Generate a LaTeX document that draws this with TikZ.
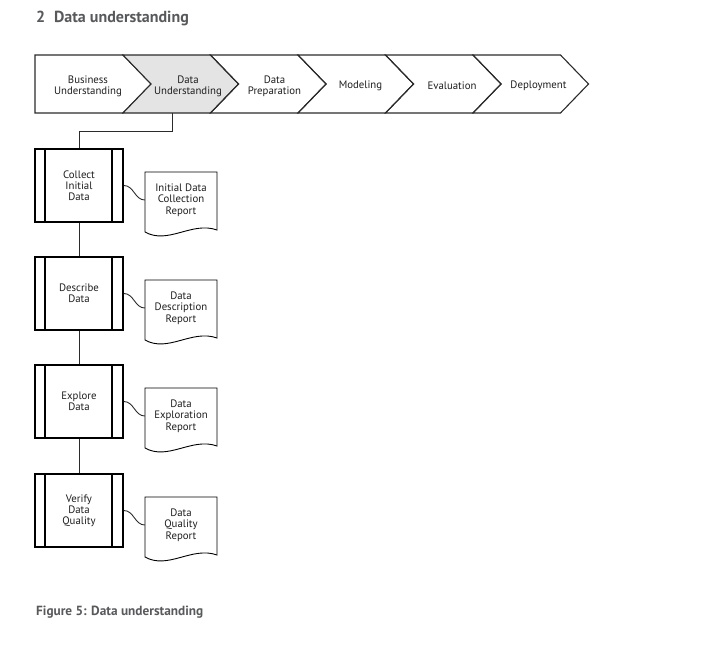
\documentclass[tikz,border=0pt]{standalone}
\usepackage{fontspec}
\setmainfont{PT Sans}
\definecolor{linec}{HTML}{2B2B2B}
\definecolor{titlegray}{HTML}{58595B}
\definecolor{chevfill}{HTML}{E4E4E4}
\definecolor{txt}{HTML}{1E1E1E}
\begin{document}
\begin{tikzpicture}[x=1pt,y=-1pt,
  chev/.style={draw=linec, line width=1.1pt, line join=miter},
  lbl/.style={font=\fontsize{10.8}{11}\selectfont, align=center, text=txt, inner sep=0pt},
  proc/.style={draw=black, line width=1.8pt, minimum width=88pt, minimum height=73pt, inner sep=0pt, align=center, text=txt, font=\fontsize{10.8}{11.2}\selectfont},
  docnode/.style={minimum width=72pt, minimum height=10pt, inner sep=0pt, align=center, text=txt, font=\fontsize{10.8}{11.6}\selectfont},
  docline/.style={draw=black, line width=0.9pt, line join=miter},
  conn/.style={draw=linec, line width=1pt},
  ttl/.style={anchor=base west, text=titlegray, inner sep=0pt}
]
\useasboundingbox (0,0) rectangle (721,653);

% title and caption
\node[ttl, font=\bfseries\fontsize{16}{19}\selectfont] (title) at (36,22) {2\hspace{0.55em}Data understanding};
\node[ttl, font=\bfseries\fontsize{13.3}{16}\selectfont] (caption) at (36,615) {Figure 5: Data understanding};

% chevrons
\draw[chev] (35,55) -- (123,55) -- (151,84) -- (123,113) -- (35,113) -- cycle;
\draw[chev, fill=chevfill] (123,55) -- (210.5,55) -- (238.5,84) -- (210.5,113) -- (123,113) -- (151,84) -- cycle;
\draw[chev] (210.5,55) -- (298,55) -- (326,84) -- (298,113) -- (210.5,113) -- (238.5,84) -- cycle;
\draw[chev] (298,55) -- (385.5,55) -- (413.5,84) -- (385.5,113) -- (298,113) -- (326,84) -- cycle;
\draw[chev] (385.5,55) -- (473,55) -- (501,84) -- (473,113) -- (385.5,113) -- (413.5,84) -- cycle;
\draw[chev] (473,55) -- (560.5,55) -- (588.5,84) -- (560.5,113) -- (473,113) -- (501,84) -- cycle;

\node[lbl] (c1) at (88,86.5) {Business\\Understanding};
\node[lbl] (c2) at (188,86.5) {Data\\Understanding};
\node[lbl] (c3) at (274.5,86.5) {Data\\Preparation};
\node[lbl] (c4) at (360.5,85.5) {Modeling};
\node[lbl] (c5) at (452,85.5) {Evaluation};
\node[lbl] (c6) at (538.5,85.5) {Deployment};
\coordinate (c2b) at (172,113);

% process boxes
\node[proc] (p1) at (79,185.5) {Collect\\Initial\\Data};
\node[proc] (p2) at (79,293.5) {Describe\\Data};
\node[proc] (p3) at (79,401.5) {Explore\\Data};
\node[proc] (p4) at (79,510.5) {Verify\\Data\\Quality};
\foreach \i in {1,2,3,4} {
  \draw[line width=1.8pt] ([xshift=11pt]p\i.north west) -- ([xshift=11pt]p\i.south west);
  \draw[line width=1.8pt] ([xshift=-12pt]p\i.north east) -- ([xshift=-12pt]p\i.south east);
}

% documents
\foreach \t in {172,280,388,497}
  \draw[docline] (145,\t) -- (217,\t) -- (217,\t+58) .. controls (192,\t+49) and (168,\t+73) .. (145,\t+60) -- cycle;
\node[docnode] (d1) at (181,200) {Initial Data\\Collection\\Report};
\node[docnode] (d2) at (181,308) {Data\\Description\\Report};
\node[docnode] (d3) at (181,416) {Data\\Exploration\\Report};
\node[docnode] (d4) at (181,525) {Data\\Quality\\Report};

% connectors
\draw[conn] (c2b) -- (172,131) -| (p1.north);
\draw[conn] (p1.south) -- (p2.north);
\draw[conn] (p2.south) -- (p3.north);
\draw[conn] (p3.south) -- (p4.north);
\foreach \i in {1,2,3,4}
  \draw[conn, line width=0.9pt] (p\i.east) to[out=0,in=180] (d\i.west);
\end{tikzpicture}
\end{document}
